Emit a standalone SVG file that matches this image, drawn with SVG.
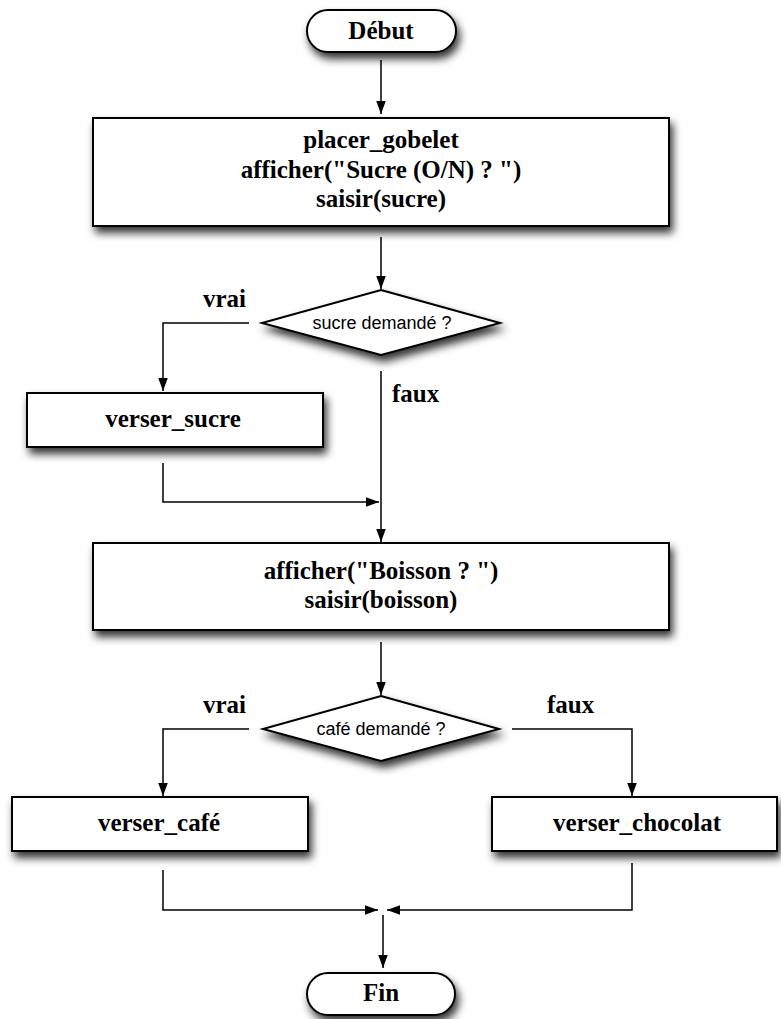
<svg xmlns="http://www.w3.org/2000/svg" width="781" height="1019" viewBox="0 0 781 1019">
<style>
.node{fill:#fff;stroke:#000;stroke-width:2;filter:url(#sh)}
.t{font-family:"Liberation Serif","Times New Roman",serif;font-weight:bold;font-size:25px;text-anchor:middle;fill:#000}
.lbl{font-family:"Liberation Serif","Times New Roman",serif;font-weight:bold;font-size:25px;fill:#000}
.d{font-family:"Liberation Sans",Arial,sans-serif;font-size:18px;text-anchor:middle;fill:#000}
.c{fill:none;stroke:#000;stroke-width:1.5;marker-end:url(#ah)}
.c2{fill:none;stroke:#000;stroke-width:1.5}
</style>
<defs>
<filter id="sh" x="-10%" y="-20%" width="130%" height="160%">
<feDropShadow dx="3" dy="6" stdDeviation="4" flood-color="#000" flood-opacity="0.8"/>
</filter>
<marker id="ah" markerUnits="userSpaceOnUse" markerWidth="14" markerHeight="16" viewBox="0 0 16 14" refX="15" refY="7" orient="auto">
<path d="M0,1.5 L15,7 L0,12.5 Z" fill="#000"/>
</marker>
</defs>
<rect width="781" height="1019" fill="#fff"/>
<g id="connectors">
<path class="c" d="M381,60 V114"/>
<path class="c" d="M381,237 V289"/>
<path class="c" d="M249,323 H163 V391"/>
<path class="c2" d="M381,371 V470"/>
<path class="c" d="M381,470 V542"/>
<path class="c" d="M163,463 V502 H379"/>
<path class="c" d="M381,642 V695"/>
<path class="c" d="M249,729 H163 V796"/>
<path class="c" d="M512,729 H632 V796"/>
<path class="c" d="M163,870 V910 H378"/>
<path class="c" d="M632,863 V910 H387"/>
<path class="c" d="M383,915 V968"/>
</g>
<g id="labels">
<text class="lbl" x="203" y="307">vrai</text>
<text class="lbl" x="392" y="402">faux</text>
<text class="lbl" x="203" y="713">vrai</text>
<text class="lbl" x="547" y="713">faux</text>
</g>
<g id="debut">
<rect class="node" x="307" y="10" width="149" height="42" rx="21"/>
<text class="t" x="381" y="39">Début</text>
</g>
<g id="box1">
<rect class="node" x="93" y="118" width="576" height="108"/>
<text class="t" x="381" y="148">placer_gobelet</text>
<text class="t" x="381" y="178">afficher("Sucre (O/N) ? ")</text>
<text class="t" x="381" y="207">saisir(sucre)</text>
</g>
<g id="dec1">
<polygon class="node" points="381,290 500,323 381,355 262,323"/>
<text class="d" x="382" y="329">sucre demandé ?</text>
</g>
<g id="sucre">
<rect class="node" x="27" y="393" width="296" height="54"/>
<text class="t" x="173" y="427">verser_sucre</text>
</g>
<g id="box2">
<rect class="node" x="93" y="543" width="576" height="87"/>
<text class="t" x="381" y="579">afficher("Boisson ? ")</text>
<text class="t" x="381" y="608">saisir(boisson)</text>
</g>
<g id="dec2">
<polygon class="node" points="381,696 499,729 381,761 263,729"/>
<text class="d" x="381" y="735">café demandé ?</text>
</g>
<g id="cafe">
<rect class="node" x="12" y="797" width="296" height="54"/>
<text class="t" x="159" y="831">verser_café</text>
</g>
<g id="chocolat">
<rect class="node" x="492" y="797" width="285" height="54"/>
<text class="t" x="637" y="831">verser_chocolat</text>
</g>
<g id="fin">
<rect class="node" x="307" y="973" width="148" height="42" rx="21"/>
<text class="t" x="381" y="1001">Fin</text>
</g>
</svg>
